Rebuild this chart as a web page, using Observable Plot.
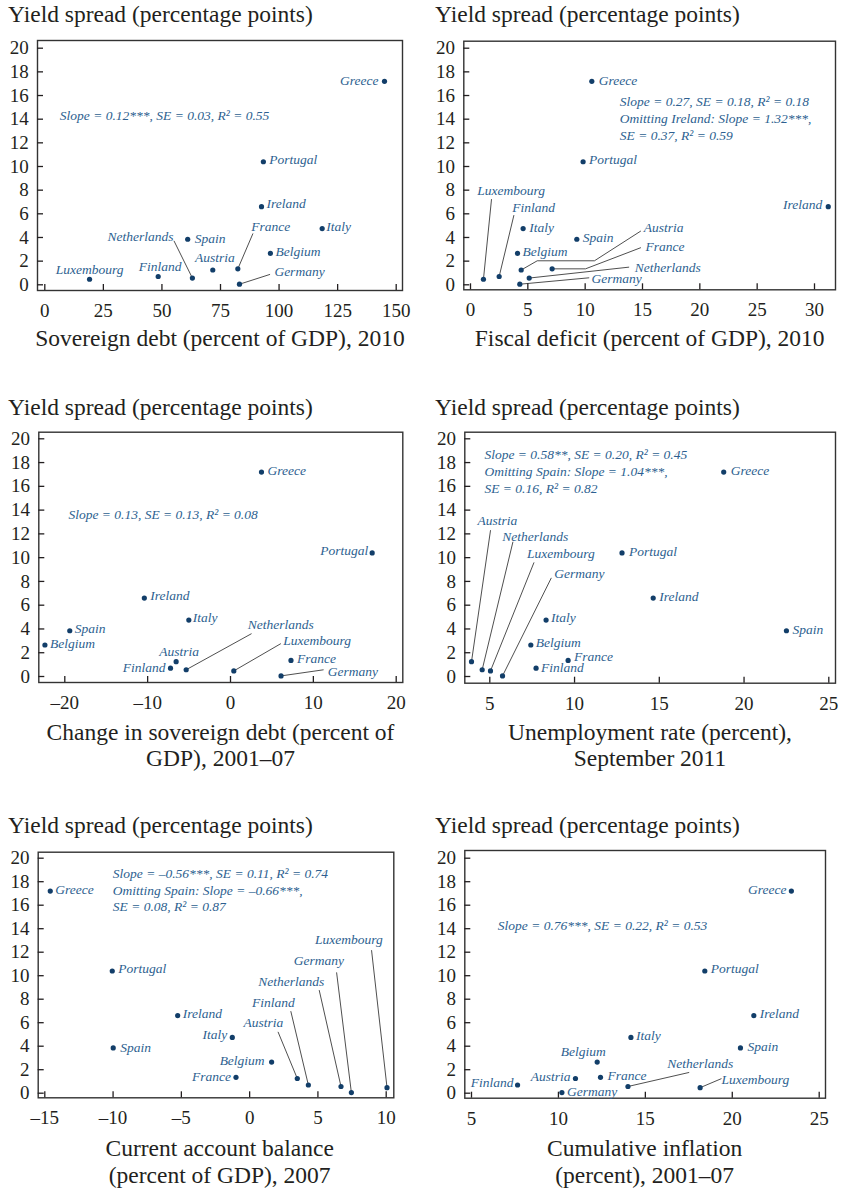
<!DOCTYPE html>
<html><head><meta charset="utf-8">
<script src="https://cdn.jsdelivr.net/npm/d3@7"></script>
<script src="https://cdn.jsdelivr.net/npm/@observablehq/plot@0.6"></script>
<style>
body{margin:0;background:#fff}
#fig{position:relative;width:841px;height:1190px;overflow:hidden;font-family:"Liberation Serif","Times New Roman",serif;color:#231f20;background:#fff}
.title,.xlab{position:absolute;font-size:23.5px;line-height:26.7px;white-space:nowrap}
.xlab{text-align:center}
.panel{position:absolute}
</style></head><body><div id="fig"></div>
<script>
// ---------------- data ----------------
const countries = ["Greece","Portugal","Ireland","Italy","Spain","Belgium","France","Austria","Finland","Netherlands","Luxembourg","Germany"];
const yieldSpread       = [17.2, 10.4, 6.6, 4.75, 3.85, 2.65, 1.35, 1.25, 0.7, 0.57, 0.47, 0.05];
const sovereignDebt2010 = [145, 93.3, 92.5, 118.4, 61, 96.3, 82.4, 71.7, 48.4, 63, 19.1, 83.1];
const fiscalDeficit2010 = [10.58, 9.82, 31.2, 4.59, 9.27, 4.1, 7.12, 4.42, 2.5, 5.12, 1.13, 4.3];
const debtChange200107  = [3.74, 17.1, -10.4, -5.03, -19.4, -22.4, 7.3, -6.56, -7.24, -5.35, 0.4, 6.1];
const unemploymentSep2011 = [18.8, 12.8, 14.64, 8.32, 22.5, 7.42, 9.62, 3.92, 7.73, 4.55, 5.04, 5.75];
const currentAccount2007 = [-14.6, -10.06, -5.27, -1.27, -9.99, 1.61, -1.0, 3.49, 4.3, 6.69, 10.06, 7.45];
const inflation200107   = [23.4, 18.42, 21.24, 14.17, 20.47, 12.23, 12.42, 10.98, 7.65, 14.0, 18.15, 10.2];

const ticksSpread = [0,2,4,6,8,10,12,14,16,18,20];
const ticksDebt = [0,25,50,75,100,125,150];
const ticksDeficit = [0,5,10,15,20,25,30];
const ticksDebtChange = [-20,-10,0,10,20];
const ticksUnemployment = [5,10,15,20,25];
const ticksCurrentAccount = [-15,-10,-5,0,5,10];
const ticksInflation = [5,10,15,20,25];

const yTitle = "Yield spread (percentage points)";
const xTitles = [
  ["Sovereign debt (percent of GDP), 2010"],
  ["Fiscal deficit (percent of GDP), 2010"],
  ["Change in sovereign debt (percent of", "GDP), 2001–07"],
  ["Unemployment rate (percent),", "September 2011"],
  ["Current account balance", "(percent of GDP), 2007"],
  ["Cumulative inflation", "(percent), 2001–07"]
];
const statsTexts = [
  "Slope = 0.12***, SE = 0.03, R² = 0.55",
  "Slope = 0.27, SE = 0.18, R² = 0.18\nOmitting Ireland: Slope = 1.32***,\nSE = 0.37, R² = 0.59",
  "Slope = 0.13, SE = 0.13, R² = 0.08",
  "Slope = 0.58**, SE = 0.20, R² = 0.45\nOmitting Spain: Slope = 1.04***,\nSE = 0.16, R² = 0.82",
  "Slope = –0.56***, SE = 0.11, R² = 0.74\nOmitting Spain: Slope = –0.66***,\nSE = 0.08, R² = 0.87",
  "Slope = 0.76***, SE = 0.22, R² = 0.53"
];

// ---------------- label placement (annotation layout) ----------------
// simple labels: [country, textAnchor, dx(px), dy(px)]
const labelsP1 = [["Greece","end",-6,-1],["Portugal","start",6,-2],["Ireland","start",5,-3],["Italy","start",4,-2],["Spain","start",7,-1],["Belgium","start",5,-2],["Austria","middle",2,-12],["Luxembourg","middle",0,-10],["Finland","middle",2,-10]];
const leadersP1 = [
  {name:"Netherlands", anchor:"end", at:[54.9,4.11], path:[[55.2,3.69]]},
  {name:"France", anchor:"start", at:[88.1,4.93], path:[[88.8,4.31]]},
  {name:"Germany", anchor:"start", at:[98.0,1.07], path:[[96.0,0.87]]}
];
const labelsP2 = [["Greece","start",7,-1],["Portugal","start",6,-2],["Ireland","end",-6,-2],["Italy","start",6,-1],["Spain","start",6,-2],["Belgium","start",5,-2]];
const leadersP2 = [
  {name:"Luxembourg", anchor:"start", at:[0.58,7.97], path:[[1.83,7.21]]},
  {name:"Finland", anchor:"start", at:[3.64,6.56], path:[[3.78,5.86]]},
  {name:"Austria", anchor:"start", at:[15.11,4.82], path:[[5.82,2.03],[10.81,2.03],[14.83,4.53]]},
  {name:"France", anchor:"start", at:[15.26,3.24], path:[[10.03,1.35],[14.83,3.13]]},
  {name:"Netherlands", anchor:"start", at:[14.33,1.49], path:[[13.8,1.49]]},
  {name:"Germany", anchor:"start", at:[10.55,0.51], path:[[10.32,0.59]]}
];
const labelsP3 = [["Greece","start",6,-1],["Portugal","end",-4,-2],["Ireland","start",6,-2],["Italy","start",4,-2],["Spain","start",5,-2],["Belgium","start",5,-1],["Austria","middle",3,-10],["Finland","end",-5,-1],["France","start",6,-2]];
const leadersP3 = [
  {name:"Netherlands", anchor:"start", at:[2.09,4.32], path:[[2.5,3.59]]},
  {name:"Luxembourg", anchor:"start", at:[6.36,3.03], path:[[6.04,2.75]]},
  {name:"Germany", anchor:"start", at:[11.74,0.42], path:[[11.19,0.56]]}
];
const labelsP4 = [["Greece","start",7,-1],["Portugal","start",7,-1],["Ireland","start",6,-1],["Spain","start",6,-1],["Italy","start",5,-2],["Belgium","start",5,-2],["France","start",6,-4],["Finland","start",5,-1]];
const leadersP4 = [
  {name:"Austria", anchor:"middle", at:[5.44,13.13], path:[[5.04,12.28]]},
  {name:"Netherlands", anchor:"middle", at:[7.68,11.8], path:[[6.36,11.3]]},
  {name:"Luxembourg", anchor:"middle", at:[9.2,10.37], path:[[7.6,9.57]]},
  {name:"Germany", anchor:"middle", at:[10.28,8.69], path:[[8.62,8.27]]}
];
const labelsP5 = [["Greece","start",5,-1],["Portugal","start",6,-2],["Spain","start",7,0],["Ireland","start",5,-2],["Italy","end",-5,-3],["Belgium","end",-7,-1],["France","end",-5,-1]];
const leadersP5 = [
  {name:"Austria", anchor:"middle", at:[1.0,6.02], path:[[2.09,5.19]]},
  {name:"Finland", anchor:"middle", at:[1.73,7.74], path:[[3.02,6.95]]},
  {name:"Netherlands", anchor:"middle", at:[3.05,9.53], path:[[5.1,8.74]]},
  {name:"Germany", anchor:"middle", at:[5.07,11.29], path:[[6.37,10.25]]},
  {name:"Luxembourg", anchor:"middle", at:[7.26,13.08], path:[[8.93,12.14]]}
];
const labelsP6 = [["Greece","end",-5,-1],["Portugal","start",6,-2],["Ireland","start",6,-2],["Spain","start",7,-1],["Italy","start",5,-2],["Belgium","middle",-14,-10],["France","start",7,-2],["Austria","end",-5,-2],["Germany","start",5,-1],["Finland","end",-4,-2]];
const leadersP6 = [
  {name:"Netherlands", anchor:"middle", at:[18.16,2.5], path:[[17.5,1.76]]},
  {name:"Luxembourg", anchor:"start", at:[19.38,1.17], path:[[19.36,1.23]]}
];

// ---------------- panel layout (page pixels) ----------------
const panels = [
  {values:sovereignDebt2010, ticks:ticksDebt, labels:labelsP1, leaders:leadersP1, ox:0, oy:0, W:420, frame:[37,40,402,290], xr:[44.3,395.7], yr:[284.3,47.7], stat:[22.3,73.7], titleB:22.7, xlabB:346, xlabC:220},
  {values:fiscalDeficit2010, ticks:ticksDeficit, labels:labelsP2, leaders:leadersP2, ox:420, oy:0, W:421, frame:[463.3,40.7,835,289.3], xr:[470,814], yr:[284.3,47.7], stat:[156,76.6], titleB:22.7, xlabB:346, xlabC:649.7},
  {values:debtChange200107, ticks:ticksDebtChange, labels:labelsP3, leaders:leadersP3, ox:0, oy:390, W:420, frame:[38.3,431.7,402.3,682], xr:[64.3,395.7], yr:[676,438.3], stat:[29.7,81], titleB:415, xlabB:740, xlabC:220.5},
  {values:unemploymentSep2011, ticks:ticksUnemployment, labels:labelsP4, leaders:leadersP4, ox:420, oy:390, W:421, frame:[464.3,431.7,835,682.7], xr:[489.3,828.3], yr:[676,438.3], stat:[19.7,38.6], titleB:415, xlabB:740, xlabC:650},
  {values:currentAccount2007, ticks:ticksCurrentAccount, labels:labelsP5, leaders:leadersP5, ox:0, oy:810, W:420, frame:[37.7,851.7,393.3,1097.3], xr:[44.3,385.7], yr:[1092.7,857.7], stat:[74.6,37.1], titleB:833, xlabB:1156.7, xlabC:219.7},
  {values:inflation200107, ticks:ticksInflation, labels:labelsP6, leaders:leadersP6, ox:420, oy:810, W:421, frame:[464.3,850,825,1097.7], xr:[471,818.7], yr:[1092.7,857.7], stat:[33,73.7], titleB:833, xlabB:1156.7, xlabC:644.7}
];

const pointColor = "#123e69";
const labelColor = "#2d5f90";
const inkColor = "#231f20";
const fmt = d => d < 0 ? "–" + Math.abs(d) : String(d);
const fig = document.getElementById("fig");
const H = 330;

panels.forEach((p, k) => {
  const rows = countries.map((c, i) => ({c, x: p.values[i], y: yieldSpread[i]}));
  const byName = new Map(rows.map(r => [r.c, r]));
  const [fl, ft, fr, fb] = p.frame;
  const leaderLines = p.leaders.flatMap(l => {
    const pt = byName.get(l.name);
    return [[pt.x, pt.y], ...l.path].map(([x, y]) => ({id: l.name, x, y}));
  });
  const txt = {fill: labelColor, fontStyle: "italic", fontSize: 13.5, fontFamily: "Liberation Serif"};
  const marks = [
    Plot.frame({stroke: "#333", strokeWidth: 1.4}),
    Plot.axisX(p.ticks, {anchor: "bottom", label: null, tickSize: -6, tickPadding: 19, tickFormat: fmt, strokeWidth: 1.3}),
    Plot.axisY(ticksSpread, {anchor: "left", label: null, tickSize: -6, tickPadding: 14.7, tickFormat: fmt, strokeWidth: 1.3}),
    Plot.line(leaderLines, {x: "x", y: "y", z: "id", stroke: "#222", strokeWidth: 0.8}),
    Plot.dot(rows, {x: "x", y: "y", r: 2.6, fill: pointColor, stroke: "none"}),
    Plot.text([statsTexts[k]], {frameAnchor: "top-left", dx: p.stat[0], dy: p.stat[1], text: d => d, textAnchor: "start", lineAnchor: "middle", lineHeight: 1.237, ...txt})
  ];
  for (const [c, a, dx, dy] of p.labels) {
    marks.push(Plot.text([byName.get(c)], {x: "x", y: "y", text: "c", textAnchor: a, dx, dy, ...txt}));
  }
  for (const l of p.leaders) {
    marks.push(Plot.text([{c: l.name, x: l.at[0], y: l.at[1]}], {x: "x", y: "y", text: "c", textAnchor: l.anchor, ...txt}));
  }
  const svg = Plot.plot({
    width: p.W, height: H,
    marginLeft: fl - p.ox, marginTop: ft - p.oy, marginRight: p.ox + p.W - fr, marginBottom: p.oy + H - fb,
    x: {domain: [p.ticks[0], p.ticks[p.ticks.length - 1]], range: [p.xr[0] - p.ox, p.xr[1] - p.ox], label: null},
    y: {domain: [0, 20], range: [p.yr[0] - p.oy, p.yr[1] - p.oy], label: null},
    style: {fontFamily: "Liberation Serif", fontSize: "19px", color: inkColor, background: "transparent", overflow: "visible"},
    marks
  });
  const wrap = document.createElement("div");
  wrap.className = "panel";
  wrap.style.left = p.ox + "px"; wrap.style.top = p.oy + "px";
  wrap.appendChild(svg);
  fig.appendChild(wrap);

  const t = document.createElement("div");
  t.className = "title";
  t.textContent = yTitle;
  t.style.left = (p.ox === 0 ? 8 : 435) + "px";
  t.style.top = (p.titleB - 21.5) + "px";
  fig.appendChild(t);

  const xl = document.createElement("div");
  xl.className = "xlab";
  xl.style.left = (p.xlabC - 200) + "px";
  xl.style.width = "400px";
  xl.style.top = (p.xlabB - 21.5) + "px";
  xl.innerHTML = xTitles[k].join("<br>");
  fig.appendChild(xl);
});
</script></body></html>
